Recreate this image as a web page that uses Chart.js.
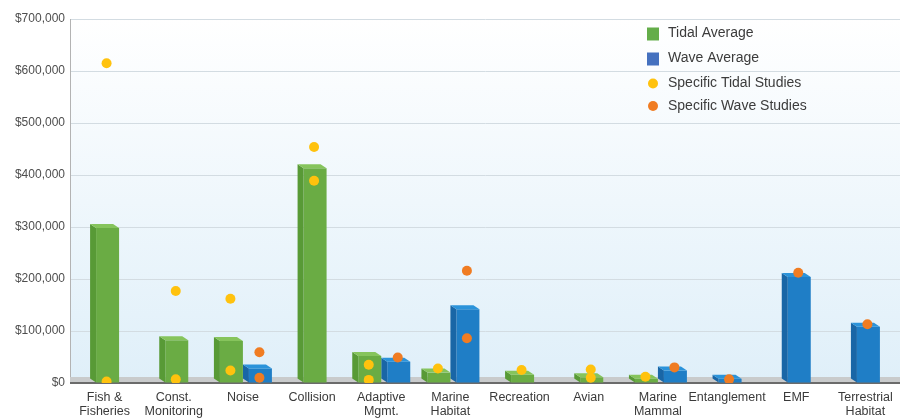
<!DOCTYPE html>
<html>
<head>
<meta charset="utf-8">
<script src="https://cdn.jsdelivr.net/npm/chart.js@4"></script>
<style>
  body { margin: 0; background: #fff; }
</style>
</head>
<body>
<canvas id="costChart" width="900" height="419"></canvas>
<script>
// study cost by issue, tidal vs wave projects
const categories = [
  "Fish &\nFisheries", "Const.\nMonitoring", "Noise", "Collision", "Adaptive\nMgmt.",
  "Marine\nHabitat", "Recreation", "Avian", "Marine\nMammal", "Entanglement",
  "EMF", "Terrestrial\nHabitat"
];
const tidalAverage = [298000, 82000, 81000, 413000, 52000, 20000, 16000, 11000, 8000, null, null, null];
const waveAverage = [null, null, 28000, null, 41000, 142000, null, null, 24000, 8000, 204000, 108000];

// individual studies, several per issue
const tidalStudies = [
  [615000, 3000], [177000, 7000], [162000, 24000], [454000, 389000], [35000, 6000],
  [28000], [25000], [26000, 10000], [12000], [], [], []
];
const waveStudies = [
  [], [], [59000, 10000], [], [49000], [216000, 86000], [], [], [30000], [7000],
  [212000], [113000]
];

const yTicks = [0, 100000, 200000, 300000, 400000, 500000, 600000, 700000];

const FONT = "'Liberation Sans', Arial, sans-serif";
const DEPTH_X = 6;
const DEPTH_Y = 4;

function studyPoints(list) {
  return list.flatMap((vals, i) => vals.map(v => ({ x: categories[i], y: v })));
}

function shade(ctx, pts, color) {
  ctx.beginPath();
  ctx.moveTo(pts[0][0], pts[0][1]);
  for (let i = 1; i < pts.length; i++) ctx.lineTo(pts[i][0], pts[i][1]);
  ctx.closePath();
  ctx.fillStyle = color;
  ctx.fill();
}

const backdrop = {
  id: "backdrop",
  beforeDraw(chart) {
    const { ctx, chartArea: a } = chart;
    const g = ctx.createLinearGradient(0, a.top, 0, a.bottom);
    g.addColorStop(0, "#ffffff");
    g.addColorStop(1, "#dfeff9");
    ctx.save();
    ctx.fillStyle = g;
    ctx.fillRect(a.left, a.top, a.right - a.left, a.bottom - a.top);
    ctx.restore();
  },
  beforeDatasetsDraw(chart) {
    // floor of the 3d plot
    const { ctx, chartArea: a } = chart;
    ctx.save();
    ctx.fillStyle = "#c9cbcc";
    ctx.fillRect(a.left, a.bottom - DEPTH_Y - 2, a.right - a.left, DEPTH_Y + 2);
    ctx.fillStyle = "#6b6b6b";
    ctx.fillRect(a.left, a.bottom - 1, a.right - a.left, 2);
    ctx.restore();
  }
};

// draws each bar as a block: front, left side and top
const blocks = {
  id: "blocks",
  afterDatasetDraw(chart, args) {
    const meta = args.meta;
    if (meta.type !== "bar") return;
    const ds = chart.data.datasets[args.index];
    const { ctx } = chart;
    ctx.save();
    meta.data.forEach((el, i) => {
      if (ds.data[i] == null) return;
      const left = el.x - el.width / 2;
      const right = el.x + el.width / 2;
      const top = el.y;
      const base = el.base;
      shade(ctx, [[left + DEPTH_X, top], [right, top], [right, base], [left + DEPTH_X, base]], ds.faces.front);
      shade(ctx, [[left, top - DEPTH_Y], [left + DEPTH_X, top], [left + DEPTH_X, base], [left, base - DEPTH_Y]], ds.faces.side);
      shade(ctx, [[left, top - DEPTH_Y], [right - DEPTH_X, top - DEPTH_Y], [right, top], [left + DEPTH_X, top]], ds.faces.top);
    });
    ctx.restore();
  }
};

// put study dots over the bar they belong to
const alignStudies = {
  id: "alignStudies",
  afterDatasetsUpdate(chart) {
    chart.data.datasets.forEach((ds, di) => {
      if (ds.pairedBar === undefined) return;
      const meta = chart.getDatasetMeta(di);
      const bars = chart.getDatasetMeta(ds.pairedBar).data;
      meta.data.forEach((pt, j) => {
        const idx = meta.controller.getParsed(j).x;
        pt.x = bars[idx].x + 2;
      });
    });
  }
};

const keyBox = {
  id: "keyBox",
  afterDraw(chart) {
    const { ctx, chartArea: a } = chart;
    const x = a.right - 247;
    let y = a.top + 14.5;
    ctx.save();
    ctx.font = "14px 'Liberation Sans', Arial, sans-serif";
    ctx.textBaseline = "middle";
    chart.data.datasets.forEach(ds => {
      ctx.fillStyle = ds.keyColor;
      if (ds.type === "line") {
        ctx.beginPath();
        ctx.arc(x, y, 5, 0, Math.PI * 2);
        ctx.fill();
      } else {
        ctx.fillRect(x - 6, y - 6, 12, 13);
      }
      ctx.fillStyle = "#3c3c3c";
      ctx.fillText(ds.label, x + 15, y);
      y += ds.type === "line" ? 22.5 : 25;
    });
    ctx.restore();
  }
};

const ctx = document.querySelector("#costChart");
const costChart = new Chart(ctx, {
  type: "bar",
  data: {
    labels: categories,
    datasets: [
      {
        label: "Tidal Average",
        data: tidalAverage,
        backgroundColor: "rgba(0,0,0,0)",
        faces: { front: "#6aac44", side: "#589a36", top: "#86c45c" },
        keyColor: "#64ad4a",
        order: 1,
      },
      {
        label: "Wave Average",
        data: waveAverage,
        backgroundColor: "rgba(0,0,0,0)",
        faces: { front: "#1f7ec6", side: "#1966a6", top: "#2b93da" },
        keyColor: "#4571bf",
        order: 1,
      },
      {
        type: "line",
        label: "Specific Tidal Studies",
        data: studyPoints(tidalStudies),
        pairedBar: 0,
        showLine: false,
        pointRadius: 5,
        pointBorderWidth: 0,
        pointBackgroundColor: "#ffc20e",
        keyColor: "#ffc20e",
        order: 0,
      },
      {
        type: "line",
        label: "Specific Wave Studies",
        data: studyPoints(waveStudies),
        pairedBar: 1,
        showLine: false,
        pointRadius: 5,
        pointBorderWidth: 0,
        pointBackgroundColor: "#f07c22",
        keyColor: "#f07c22",
        order: 0,
      },
    ],
  },
  options: {
    responsive: false,
    animation: false,
    events: [],
    skipNull: true,
    barThickness: 29,
    layout: { autoPadding: false, padding: { top: 19, right: 0, left: 0, bottom: 0 } },
    plugins: {
      legend: { display: false },
      tooltip: { enabled: false },
    },
    scales: {
      x: {
        grid: { display: false, drawTicks: false },
        border: { display: false },
        ticks: {
          autoSkip: false,
          maxRotation: 0,
          padding: 8,
          color: "#3a3a3a",
          font: { family: FONT, size: 12.5, lineHeight: 1.12 },
          callback(value) {
            return categories[value].split("\n");
          },
        },
        afterFit(scale) {
          scale.height = 36;
          scale.paddingLeft = 0;
          scale.paddingRight = 0;
        },
      },
      y: {
        min: 0,
        max: 700000,
        afterBuildTicks(scale) {
          scale.ticks = yTicks.map(v => ({ value: v }));
        },
        grid: { color: "#d3dce2", drawTicks: false },
        border: { color: "#b3b3b3" },
        ticks: {
          padding: 5,
          color: "#4e4e4e",
          font: { family: FONT, size: 12 },
          callback: v => "$" + v.toLocaleString("en-US"),
        },
        afterFit(scale) { scale.width = 70; },
      },
    },
  },
  plugins: [backdrop, blocks, alignStudies, keyBox],
});
</script>
</body>
</html>
